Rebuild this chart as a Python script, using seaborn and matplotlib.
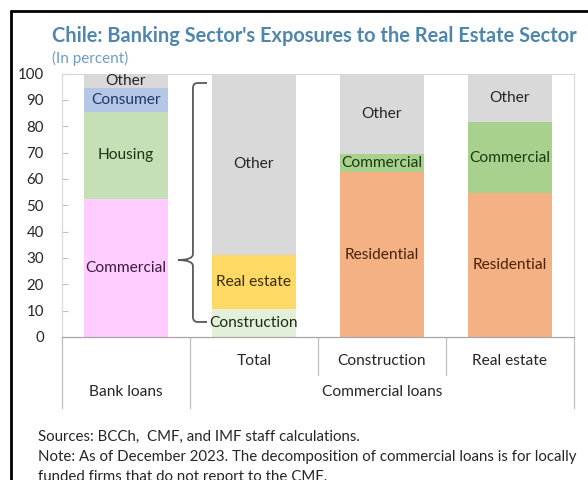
import matplotlib
matplotlib.use("Agg")
import matplotlib.pyplot as plt
from matplotlib.path import Path
from matplotlib.patches import PathPatch
from matplotlib.transforms import blended_transform_factory
import seaborn as sns
import pandas as pd

# Columns of the chart and their stacked segments (bottom to top), in percent
columns = ["Bank loans", "Total", "Construction", "Real estate"]

bank_segments = ["Commercial", "Housing", "Consumer", "Other"]
bank_values = [52.5, 33.0, 9.0, 5.5]

total_segments = ["Construction", "Real estate", "Other"]
total_values = [10.5, 20.5, 69.0]

construction_segments = ["Residential", "Commercial", "Other"]
construction_values = [62.5, 7.0, 30.5]

realestate_segments = ["Residential", "Commercial", "Other"]
realestate_values = [54.5, 27.0, 18.5]

tick_labels = ["", "Total", "Construction", "Real estate"]
group_labels = ["Bank loans", "Commercial loans"]

title = "Chile: Banking Sector's Exposures to the Real Estate Sector"
subtitle = "(In percent)"
note_lines = [
    "Sources: BCCh,  CMF, and IMF staff calculations.",
    "Note: As of December 2023. The decomposition of commercial loans is for locally",
    "funded firms that do not report to the CMF.",
]

# Fill and text colours per column / segment
fills = {
    "Bank loans": {"Commercial": "#FFCCFF", "Housing": "#C5E0B4",
                   "Consumer": "#B4C7E7", "Other": "#D9D9D9"},
    "Total": {"Construction": "#E2F0D9", "Real estate": "#FFD966",
              "Other": "#D9D9D9"},
    "Construction": {"Residential": "#F4B183", "Commercial": "#A9D18E",
                     "Other": "#D9D9D9"},
    "Real estate": {"Residential": "#F4B183", "Commercial": "#A9D18E",
                    "Other": "#D9D9D9"},
}
text_colors = {
    "Bank loans": {"Commercial": "#3D1A3D", "Housing": "#1F3317",
                   "Consumer": "#1F3864", "Other": "#262626"},
    "Total": {"Construction": "#1F2A1A", "Real estate": "#3A2E05",
              "Other": "#262626"},
    "Construction": {"Residential": "#4A2208", "Commercial": "#1B3A10",
                     "Other": "#262626"},
    "Real estate": {"Residential": "#4A2208", "Commercial": "#1B3A10",
                    "Other": "#262626"},
}

rows = []
for col, segs, vals in [("Bank loans", bank_segments, bank_values),
                        ("Total", total_segments, total_values),
                        ("Construction", construction_segments, construction_values),
                        ("Real estate", realestate_segments, realestate_values)]:
    base = 0.0
    for s, v in zip(segs, vals):
        rows.append({"column": col, "segment": s, "value": v, "base": base})
        base += v
df = pd.DataFrame(rows)

sns.set_theme(style="white")
FONT = ["Lato", "DejaVu Sans"]
plt.rcParams["font.family"] = FONT

fig = plt.figure(figsize=(5.88, 4.8), dpi=100)
W, H = 588, 480
ax = fig.add_axes([62 / W, 143 / H, 512 / W, 263.5 / H])

LABEL_SIZE = 11.2
for _, r in df.iterrows():
    sns.barplot(x=[r["column"]], y=[r["value"]], order=columns,
                bottom=r["base"], color=fills[r["column"]][r["segment"]],
                saturation=1, width=0.66, errorbar=None, linewidth=0, ax=ax)
    ax.text(columns.index(r["column"]), r["base"] + r["value"] / 2, r["segment"],
            ha="center", va="center", fontsize=LABEL_SIZE,
            color=text_colors[r["column"]][r["segment"]])

ax.set_xlim(-0.5, 3.5)
ax.set_ylim(0, 100)
ax.set_yticks(range(0, 101, 10))
ax.tick_params(axis="y", direction="in", length=4, width=0.8, color="#BFBFBF",
               pad=13, labelsize=10.8, labelcolor="#262626", left=True)
ax.set_xticks(range(4))
ax.set_xticklabels(tick_labels, fontsize=LABEL_SIZE, color="#262626")
ax.tick_params(axis="x", length=0, pad=12)
ax.set_xlabel("")
ax.set_ylabel("")
for side in ["top", "right", "left"]:
    ax.spines[side].set_color("#D9D9D9")
    ax.spines[side].set_linewidth(0.9)
ax.spines["bottom"].set_color("#A6A6A6")
ax.spines["bottom"].set_linewidth(0.9)

# Category separators under the axis
trans = blended_transform_factory(ax.transData, ax.transAxes)
for x, depth in [(-0.5, -0.27), (0.5, -0.27), (1.5, -0.145), (2.5, -0.145), (3.5, -0.27)]:
    ax.plot([x, x], [0, depth], transform=trans, color="#BFBFBF", lw=0.9,
            clip_on=False)
ax.text(0, -0.21, group_labels[0], transform=trans, ha="center", va="center",
        fontsize=LABEL_SIZE, color="#262626")
ax.text(2, -0.21, group_labels[1], transform=trans, ha="center", va="center",
        fontsize=LABEL_SIZE, color="#262626")

# Curly brace linking the commercial share to its decomposition
bx, tipx, endx = 0.523, 0.406, 0.633
top, tip, bot = 96.4, 29.2, 5.7
verts = [(endx, top), (0.56, top), (bx, top), (bx, top - 2.0),
         (bx, tip + 2.3), (bx, tip), (tipx, tip),
         (bx, tip), (bx, tip - 2.3),
         (bx, bot + 2.0), (bx, bot), (0.56, bot), (endx, bot)]
codes = [Path.MOVETO, Path.LINETO, Path.CURVE3, Path.CURVE3,
         Path.LINETO, Path.CURVE3, Path.CURVE3,
         Path.CURVE3, Path.CURVE3,
         Path.LINETO, Path.CURVE3, Path.CURVE3, Path.LINETO]
ax.add_patch(PathPatch(Path(verts, codes), fill=False, edgecolor="#595959",
                       lw=1.3, clip_on=False))

# Titles and notes
fig.text(52 / W, 1 - 36 / H, title, fontsize=14.4, fontweight="bold",
         color="#4E86AE", va="center", ha="left")
fig.text(52 / W, 1 - 58 / H, subtitle, fontsize=11, color="#6E9CC4",
         va="center", ha="left")
for i, line in enumerate(note_lines):
    fig.text(38 / W, 1 - (437 + 20 * i) / H, line, fontsize=10.8,
             color="#262626", va="center", ha="left")

# Frame on the left and top of the figure
fig.add_artist(plt.Line2D([11 / W, 11 / W], [0, 1 - 11 / H], color="black",
                          lw=2, transform=fig.transFigure))
fig.add_artist(plt.Line2D([11 / W, 1], [1 - 11 / H, 1 - 11 / H], color="black",
                          lw=2, transform=fig.transFigure))

fig.savefig("out.png", dpi=100, facecolor="white")
